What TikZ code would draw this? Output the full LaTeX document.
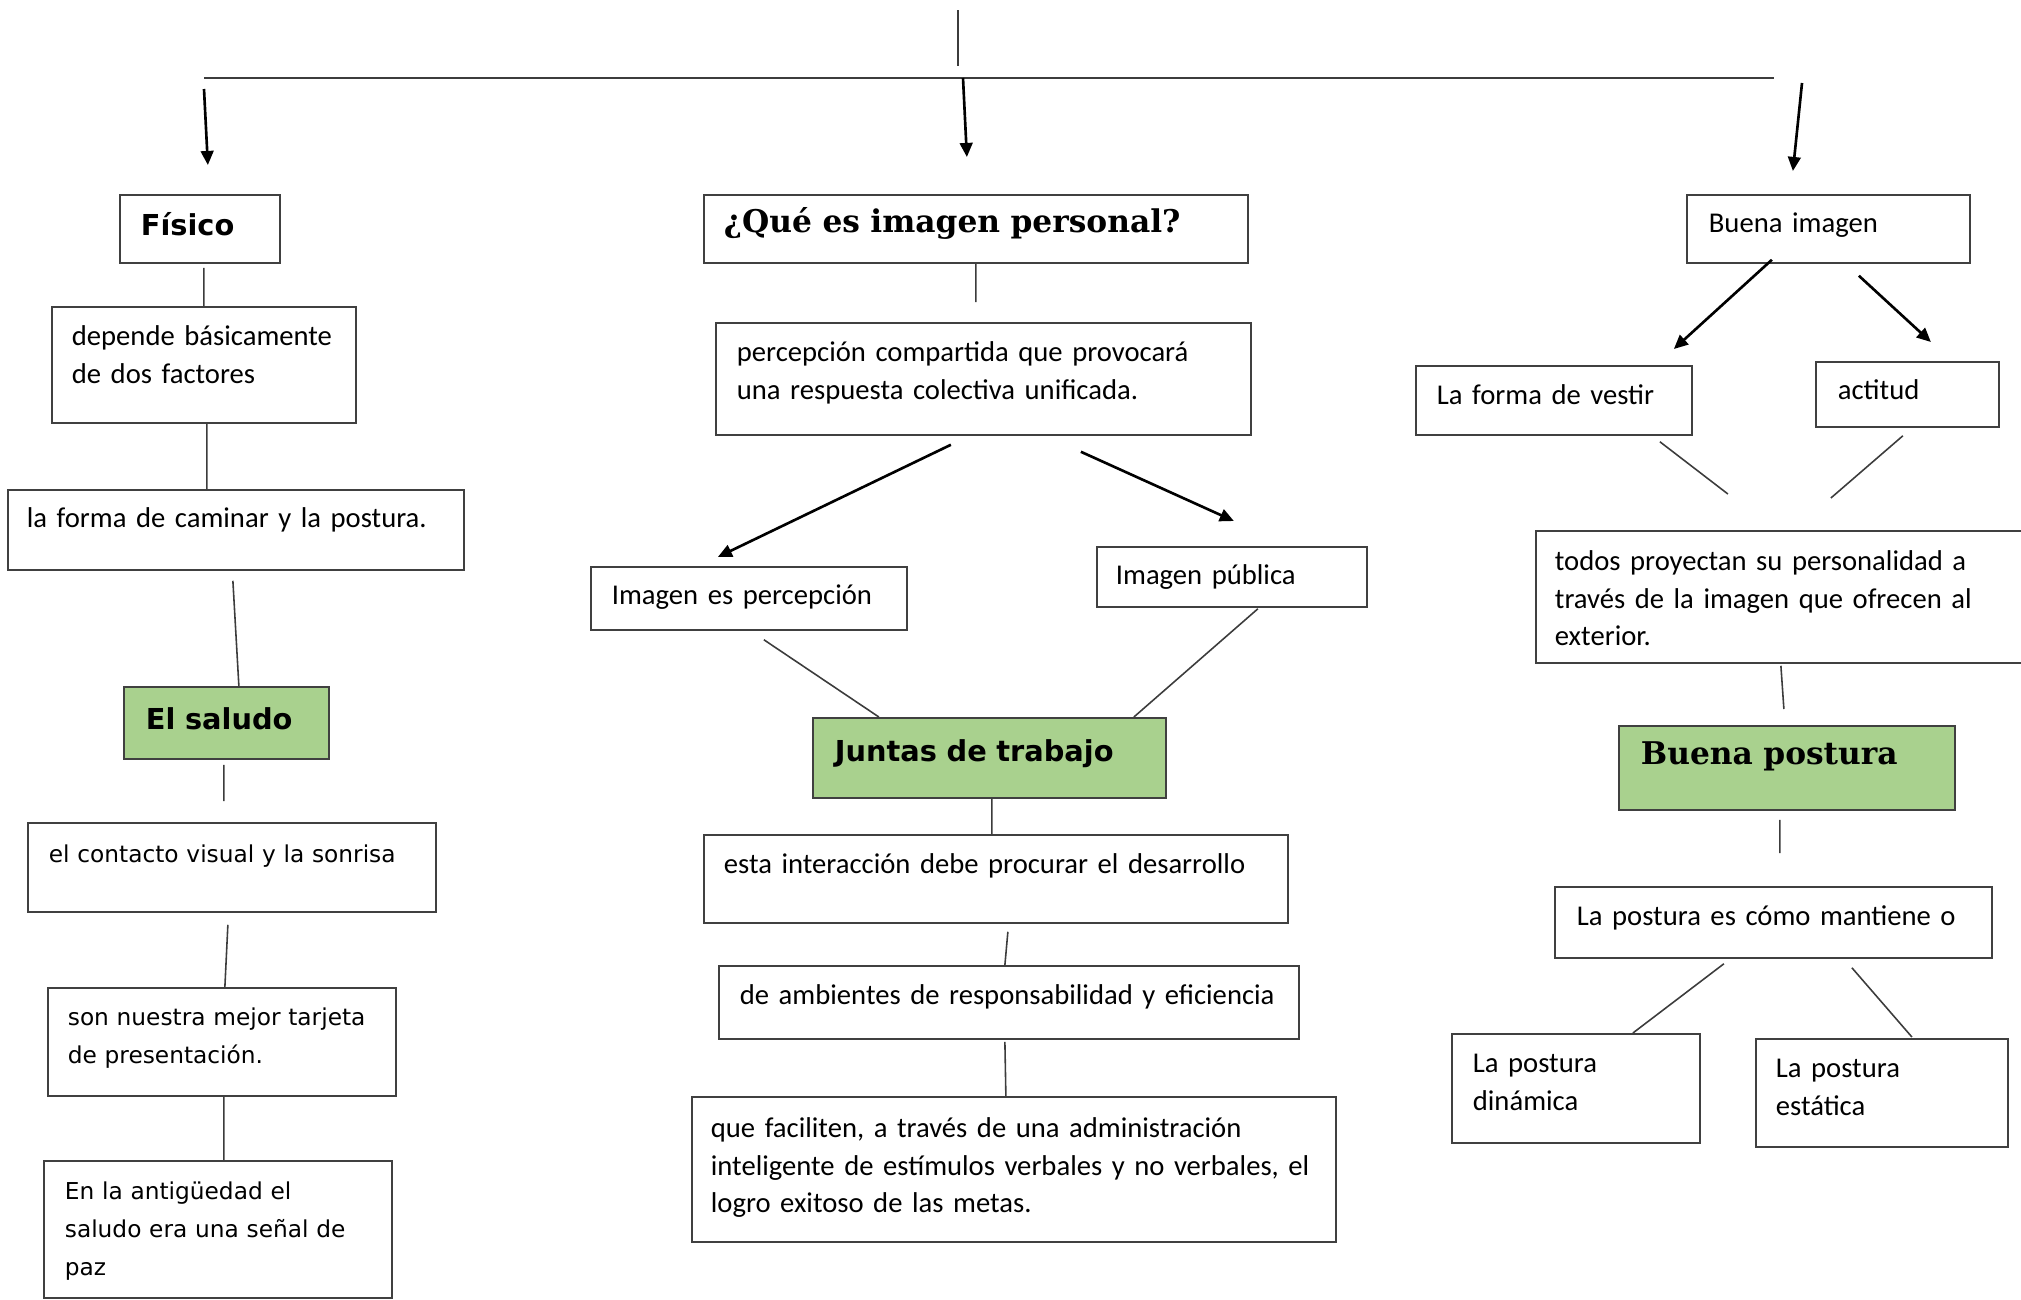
\documentclass[tikz,border=0pt]{standalone}
\usepackage{fontspec}
\setmainfont{Carlito}
\newfontfamily\dejavu{DejaVu Sans}
\newfontfamily\dejavuserif{DejaVu Serif}
\usepackage{tikz}
\usetikzlibrary{arrows.meta}
\definecolor{grisCaja}{RGB}{64,64,64}
\definecolor{grisLinea}{RGB}{60,60,60}
\definecolor{verdeClaro}{RGB}{169,209,142}
\tikzstyle{caja}  =[draw=grisCaja, line width=0.5pt, anchor=north west,
                    align=left, inner ysep=0pt,
                    font=\fontsize{8.15}{10.6}\selectfont,
                    execute at begin node={\rightskip=-0.3cm plus 1fil}]
\tikzstyle{cajaB} =[caja, font=\dejavu\fontsize{6.62}{10.7}\selectfont]
\tikzstyle{cabeza}=[caja, font=\dejavu\bfseries\fontsize{8.2}{10}\selectfont]
\tikzstyle{titulo}=[caja, font=\dejavuserif\bfseries\fontsize{8.9}{11}\selectfont]
\tikzstyle{verde} =[fill=verdeClaro]
\tikzstyle{linea} =[draw=grisLinea, line width=0.45pt]
\tikzstyle{flecha}=[-{Triangle[length=4pt,width=3.6pt]}, line width=0.75pt]
\tikzset{medidas/.style n args={4}{text width=#1cm, inner xsep=#2cm,
                                   text height=#3cm, text depth=#4cm}}

\begin{document}
\begin{tikzpicture}
    \useasboundingbox (0,0) rectangle (20.21,-12.99);
    \clip (0,0) rectangle (20.21,-12.99);

    % tronco
    \coordinate (titulo) at (9.58,-0.10);
    \coordinate (cruce) at (9.58,-0.66);
    \coordinate (ramaIzq) at (2.04,-0.78);
    \coordinate (ramaDer) at (17.74,-0.78);
    \coordinate (salidaFis) at (2.04,-0.89);
    \coordinate (salidaQue) at (9.63,-0.78);
    \coordinate (salidaBuena) at (18.02,-0.83);

    % izquierda
    \draw (1.19,-1.94) node (fisico) [cabeza, medidas={1.18}{0.21}{0.41}{0.27}] {Físico};
    \draw (0.51,-3.06) node (depende) [caja, medidas={2.64}{0.20}{0.39}{0.77}] {depende básicamente\\de dos factores};
    \draw (0.07,-4.89) node (caminar) [caja, medidas={4.18}{0.19}{0.38}{0.42}] {la forma de caminar y la postura.};
    \draw (1.23,-6.86) node (saludo) [cabeza, verde, medidas={1.61}{0.22}{0.43}{0.29}] {El saludo};
    \draw (0.27,-8.22) node (contacto) [cajaB, medidas={3.66}{0.21}{0.40}{0.49}] {el contacto visual y la sonrisa};
    \draw (0.47,-9.87) node (tarjeta) [cajaB, medidas={3.08}{0.20}{0.38}{0.70}] {son nuestra mejor tarjeta\\de presentación.};
    \draw (0.43,-11.60) node (antiguedad) [cajaB, medidas={3.06}{0.21}{0.39}{0.98}] {En la antigüedad el\\saludo era una señal de\\paz};

    % centro
    \draw (7.03,-1.94) node (que) [titulo, medidas={5.04}{0.20}{0.38}{0.30}] {¿Qué es imagen personal?};
    \draw (7.15,-3.22) node (percepcion) [caja, medidas={4.93}{0.21}{0.39}{0.73}] {percepción compartida que provocará\\una respuesta colectiva unificada.};
    \draw (5.90,-5.66) node (imgPerc) [caja, medidas={2.74}{0.21}{0.38}{0.25}] {Imagen es percepción};
    \draw (10.96,-5.46) node (imgPub) [caja, medidas={2.32}{0.19}{0.38}{0.22}] {Imagen pública};
    \draw (8.12,-7.17) node (juntas) [cabeza, verde, medidas={3.09}{0.22}{0.44}{0.36}] {Juntas de trabajo};
    \draw (7.03,-8.34) node (interaccion) [caja, medidas={5.44}{0.20}{0.39}{0.49}] {esta interacción debe procurar el desarrollo};
    \draw (7.18,-9.65) node (ambientes) [caja, medidas={5.38}{0.21}{0.39}{0.34}] {de ambientes de responsabilidad y eficiencia};
    \draw (6.91,-10.96) node (faciliten) [caja, medidas={6.06}{0.19}{0.41}{1.04}] {que faciliten, a través de una administración\\inteligente de estímulos verbales y no verbales, el\\logro exitoso de las metas.};

    % derecha
    \draw (16.86,-1.94) node (buenaImg) [caja, medidas={2.39}{0.22}{0.38}{0.30}] {Buena imagen};
    \draw (14.15,-3.65) node (vestir) [caja, medidas={2.34}{0.21}{0.39}{0.30}] {La forma de vestir};
    \draw (18.15,-3.61) node (actitud) [caja, medidas={1.39}{0.22}{0.38}{0.27}] {actitud};
    \draw (15.35,-5.30) node (todos) [caja, medidas={4.67}{0.19}{0.40}{0.92}] {todos proyectan su personalidad a\\través de la imagen que ofrecen al\\exterior.};
    \draw (16.18,-7.25) node (buenaPost) [titulo, verde, medidas={2.92}{0.22}{0.39}{0.45}] {Buena postura};
    \draw (15.54,-8.86) node (mantiene) [caja, medidas={3.93}{0.22}{0.39}{0.32}] {La postura es cómo mantiene o};
    \draw (14.51,-10.33) node (dinamica) [caja, medidas={2.06}{0.21}{0.39}{0.70}] {La postura\\dinámica};
    \draw (17.55,-10.38) node (estatica) [caja, medidas={2.12}{0.20}{0.39}{0.69}] {La postura\\estática};

    % conectores
    \draw [linea] (titulo) -- (cruce);
    \draw [linea] (ramaIzq) -- (ramaDer);
    \draw [flecha] (salidaFis) -- ([shift={(0.08,0.29)}]fisico.north);
    \draw [flecha] (salidaQue) -- ([shift={(-0.09,0.37)}]que.north);
    \draw [flecha] (salidaBuena) -- ([shift={(-0.355,0.23)}]buenaImg.north);

    \draw [linea] ([shift={(0.04,-0.04)}]fisico.south) -- (depende.north);
    \draw [linea] ([shift={(0.03,0)}]depende.south) -- ([shift={(-0.29,0)}]caminar.north);
    \draw [linea] ([shift={(-0.03,-0.10)}]caminar.south) -- ([shift={(0.125,0)}]saludo.north);
    \draw [linea] ([shift={(-0.025,-0.05)}]saludo.south) -- ([shift={(-0.08,0.21)}]contacto.north);
    \draw [linea] ([shift={(-0.04,-0.12)}]contacto.south) -- ([shift={(0.03,0)}]tarjeta.north);
    \draw [linea] ([shift={(0.02,0)}]tarjeta.south) -- ([shift={(0.06,0)}]antiguedad.north);

    \draw [linea] (que.south) -- ([shift={(-0.075,0.20)}]percepcion.north);
    \draw [flecha] ([shift={(-0.325,-0.09)}]percepcion.south) -- ([shift={(-0.31,0.09)}]imgPerc.north);
    \draw [flecha] ([shift={(0.975,-0.16)}]percepcion.south) -- ([shift={(0.02,0.25)}]imgPub.north);
    \draw [linea] ([shift={(0.15,-0.09)}]imgPerc.south) -- ([shift={(-1.105,0)}]juntas.north);
    \draw [linea] ([shift={(0.26,-0.01)}]imgPub.south) -- ([shift={(1.445,0)}]juntas.north);
    \draw [linea] ([shift={(0.025,0)}]juntas.south) -- ([shift={(-0.04,0)}]interaccion.north);
    \draw [linea] ([shift={(0.12,-0.08)}]interaccion.south) -- ([shift={(-0.04,0)}]ambientes.north);
    \draw [linea] ([shift={(-0.04,-0.02)}]ambientes.south) -- ([shift={(-0.08,0)}]faciliten.north);

    \draw [flecha] ([shift={(-0.565,0.04)}]buenaImg.south) -- ([shift={(1.20,0.16)}]vestir.north);
    \draw [flecha] ([shift={(0.305,-0.12)}]buenaImg.south) -- ([shift={(0.235,0.19)}]actitud.north);
    \draw [linea] ([shift={(1.06,-0.06)}]vestir.south) -- ([shift={(-0.605,0.36)}]todos.north);
    \draw [linea] ([shift={(-0.045,-0.08)}]actitud.south) -- ([shift={(0.425,0.32)}]todos.north);
    \draw [linea] ([shift={(-0.075,-0.02)}]todos.south) -- ([shift={(-0.03,0.16)}]buenaPost.north);
    \draw [linea] ([shift={(-0.07,-0.09)}]buenaPost.south) -- ([shift={(0.065,0.33)}]mantiene.north);
    \draw [linea] ([shift={(-0.495,-0.05)}]mantiene.south) -- ([shift={(0.57,0)}]dinamica.north);
    \draw [linea] ([shift={(0.785,-0.09)}]mantiene.south) -- ([shift={(0.30,0.01)}]estatica.north);
\end{tikzpicture}
\end{document}
